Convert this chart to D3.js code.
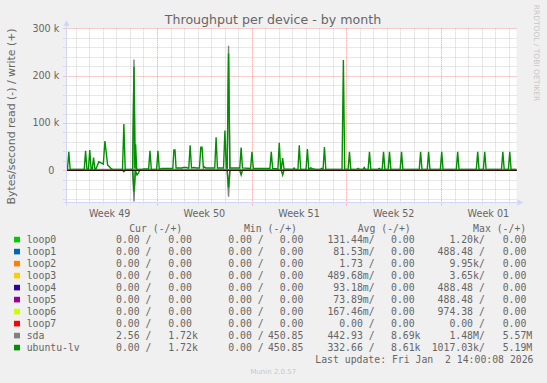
<!DOCTYPE html>
<html>
<head>
<meta charset="utf-8">
<script src="https://cdn.jsdelivr.net/npm/d3@7"></script>
<style>
  body { margin: 0; background: #f0f0f0; }
  text { fill: #666; font-family: "DejaVu Sans", sans-serif; }
  .mono { font-family: "DejaVu Sans Mono", monospace; font-size: 9.8px; white-space: pre; }
</style>
</head>
<body>
<div id="chart"></div>
<script>
var width = 547, height = 383;
var dayMs = 864e5;
var t0 = Date.UTC(2025, 11, 1);          // Mon 1 Dec 2025, day offsets below count from here
var viewDays = [0.309, 33.58];

var devices = ["loop0", "loop1", "loop2", "loop3", "loop4", "loop5", "loop6", "loop7", "sda", "ubuntu-lv"];
var colors = ["#00CC00", "#0066B3", "#FF8000", "#FFCC00", "#330099", "#990099", "#CCFF00", "#FF0000", "#808080", "#008F00"];

// [day, kB/s] points; a 3-entry point is a one-sample spike: [day, peak, level around it]
var lvWrite = [
  [0.31, 2], [0.48, 39, 2], [1.72, 41, 2], [2.03, 43, 2], [2.31, 27, 2],
  [2.48, 2], [2.70, 18], [2.90, 15], [3.03, 13], [3.15, 62], [3.35, 11], [3.47, 8], [3.59, 4], [3.70, 2],
  [4.55, 98, 2],
  [5.20, 2], [5.30, 219], [5.36, 4], [5.42, 55], [5.50, 2],
  [5.95, 2], [6.0, 3], [6.33, 3], [6.48, 41, 2], [7.07, 41, 2],
  [7.35, 4], [8.09, 4], [8.17, 4], [8.25, 43], [8.33, 43], [8.41, 5],
  [8.85, 5], [8.95, 6], [9.18, 6], [9.25, 5], [9.45, 53, 5], [9.72, 6], [9.92, 5],
  [10.14, 5], [10.24, 49], [10.33, 49], [10.43, 5], [10.50, 7], [10.6, 5],
  [11.37, 70, 5], [12.02, 84, 5], [12.29, 247, 5], [13.22, 48, 5],
  [14.02, 39, 4], [15.45, 39, 4], [16.04, 58, 3], [16.29, 26, 3],
  [17.13, 5, 2], [17.52, 53, 2], [18.12, 45, 2], [18.37, 5], [18.5, 3], [18.61, 3], [18.7, 2],
  [19.18, 4, 2], [19.38, 49, 2], [20.78, 233, 2], [21.23, 39, 2], [21.87, 4, 2], [22.32, 6, 2],
  [22.71, 39, 2], [23.43, 4, 2], [23.75, 39, 2], [24.19, 39, 2], [25.08, 39, 2], [26.49, 39, 2],
  [27.08, 39, 2], [28.05, 39, 2], [29.23, 39, 2], [30.71, 39, 2], [31.23, 39, 2], [32.57, 39, 2],
  [33.08, 39, 2], [33.58, 2]
];
var lvRead = [
  [0.31, 0], [4.55, 3, 0], [5.30, 45, 0], [5.40, 0], [5.52, 10], [5.62, 6], [5.72, 0],
  [12.29, 36, 0], [13.22, 10, 0], [16.29, 10, 0], [33.58, 0]
];
var sdaWrite = [[0.31, 2], [5.30, 234, 2], [12.29, 263, 2], [33.58, 2]];
var sdaRead = [[0.31, 0], [5.30, 66, 0], [12.29, 56, 0], [33.58, 0]];
var loopFlat = [[0.31, 0], [33.58, 0]];

var yTicks = [0, 100000, 200000, 300000];
var yTickLabels = ["0", "100 k", "200 k", "300 k"];

var curR = ["0.00", "0.00", "0.00", "0.00", "0.00", "0.00", "0.00", "0.00", "2.56", "0.00"];
var curW = ["0.00", "0.00", "0.00", "0.00", "0.00", "0.00", "0.00", "0.00", "1.72k", "1.72k"];
var minR = ["0.00", "0.00", "0.00", "0.00", "0.00", "0.00", "0.00", "0.00", "0.00", "0.00"];
var minW = ["0.00", "0.00", "0.00", "0.00", "0.00", "0.00", "0.00", "0.00", "450.85", "450.85"];
var avgR = ["131.44m", "81.53m", "1.73", "489.68m", "93.18m", "73.89m", "167.46m", "0.00", "442.93", "332.66"];
var avgW = ["0.00", "0.00", "0.00", "0.00", "0.00", "0.00", "0.00", "0.00", "8.69k", "8.61k"];
var maxR = ["1.20k", "488.48", "9.95k", "3.65k", "488.48", "488.48", "974.38", "0.00", "1.48M", "1017.03k"];
var maxW = ["0.00", "0.00", "0.00", "0.00", "0.00", "0.00", "0.00", "0.00", "5.57M", "5.19M"];

var plotLeft = 66.5, plotRight = 516.5, plotTop = 28.3, plotBottom = 202.5;

var svg = d3.select("#chart").append("svg")
    .attr("width", width)
    .attr("height", height);

svg.append("rect").attr("width", width).attr("height", height).attr("fill", "#f0f0f0");

var toDate = function(d) { return new Date(t0 + d * dayMs); };

var x = d3.scaleUtc()
    .domain(viewDays.map(toDate))
    .range([plotLeft, plotRight]);

var y = d3.scaleLinear()
    .domain([-68000, 300000])
    .range([plotBottom, plotTop]);

// canvas
svg.append("rect")
    .attr("x", plotLeft).attr("y", plotTop)
    .attr("width", plotRight - plotLeft).attr("height", plotBottom - plotTop)
    .attr("fill", "#fff");

var px = function(v) { return Math.round(v) + 0.5; };
var minorCol = "rgba(150,150,150,0.45)", majorCol = "rgba(240,90,90,0.6)";

// grid
var days = d3.utcDay.range(x.domain()[0], x.domain()[1]);
var grid = svg.append("g");
days.forEach(function(d) {
    var major = d.getUTCDay() === 1;
    grid.append("line")
        .attr("x1", px(x(d))).attr("x2", px(x(d)))
        .attr("y1", plotTop).attr("y2", plotBottom + (major ? 3.5 : 2))
        .attr("stroke", major ? majorCol : minorCol)
        .attr("stroke-dasharray", "1,1");
});
d3.range(-60000, 300001, 20000).forEach(function(v) {
    var major = v % 100000 === 0;
    grid.append("line")
        .attr("x1", plotLeft - 3).attr("x2", plotRight)
        .attr("y1", px(y(v))).attr("y2", px(y(v)))
        .attr("stroke", major ? majorCol : minorCol)
        .attr("stroke-dasharray", "1,1");
});

// series
var expand = function(pts) {
    var out = [];
    pts.forEach(function(p) {
        if (p.length === 3) out.push([p[0] - 0.1, p[2]], [p[0], p[1]], [p[0] + 0.1, p[2]]);
        else out.push(p);
    });
    return out;
};

var line = function(sign) {
    return d3.line()
        .x(function(p) { return x(toDate(p[0])); })
        .y(function(p) { return y(sign * p[1] * 1000); });
};

svg.append("clipPath").attr("id", "clip").append("rect")
    .attr("x", plotLeft).attr("y", plotTop - 1).attr("width", plotRight - plotLeft).attr("height", plotBottom - plotTop + 1);

var plot = svg.append("g").attr("clip-path", "url(#clip)");
devices.forEach(function(name, i) {
    var w = loopFlat, r = loopFlat;
    if (name === "sda") { w = sdaWrite; r = sdaRead; }
    if (name === "ubuntu-lv") { w = lvWrite; r = lvRead; }
    plot.append("path").attr("d", line(-1)(expand(r)))
        .attr("fill", "none").attr("stroke", colors[i]).attr("stroke-width", 1.4);
    plot.append("path").attr("d", line(1)(expand(w)))
        .attr("fill", "none").attr("stroke", colors[i]).attr("stroke-width", 1.4);
});

// zero line, with the red major grid dots showing over it
svg.append("line")
    .attr("x1", plotLeft).attr("x2", plotRight)
    .attr("y1", px(y(0))).attr("y2", px(y(0)))
    .attr("stroke", "#000");
svg.append("line")
    .attr("x1", plotLeft).attr("x2", plotRight)
    .attr("y1", px(y(0))).attr("y2", px(y(0)))
    .attr("stroke", "rgba(200,40,40,0.5)")
    .attr("stroke-dasharray", "1,1");

// axes
var axisColor = "#CFD6F8";
svg.append("line").attr("x1", plotLeft).attr("x2", plotLeft).attr("y1", plotBottom + 3).attr("y2", 24)
    .attr("stroke", axisColor);
svg.append("path").attr("d", "M" + plotLeft + ",20 L" + (plotLeft - 3) + ",26 L" + (plotLeft + 3) + ",26 Z")
    .attr("fill", axisColor);
svg.append("line").attr("x1", plotLeft - 3).attr("x2", plotRight + 2).attr("y1", plotBottom).attr("y2", plotBottom)
    .attr("stroke", axisColor);
svg.append("path").attr("d", "M" + (plotRight + 7) + "," + plotBottom + " L" + (plotRight + 1) + "," + (plotBottom - 3) + " L" + (plotRight + 1) + "," + (plotBottom + 3) + " Z")
    .attr("fill", axisColor);

// y tick labels
svg.append("g").selectAll("text")
    .data(yTicks)
    .enter().append("text")
    .attr("x", function(d) { return d === 0 ? 54.3 : 59.3; })
    .attr("y", function(d) { return y(d); })
    .attr("dy", "0.36em")
    .attr("text-anchor", "end")
    .style("font-size", "9.6px")
    .text(function(d, i) { return yTickLabels[i]; });

// week labels, centred on the week
var weekFmt = d3.utcFormat("Week %V");
svg.append("g").selectAll("text")
    .data(d3.utcMonday.range(d3.utcMonday.offset(x.domain()[0], -1), x.domain()[1]))
    .enter().append("text")
    .attr("x", function(d) { return x(new Date(+d + 3.5 * dayMs)); })
    .attr("y", 216.5)
    .attr("text-anchor", "middle")
    .style("font-size", "9.6px")
    .text(weekFmt);

// title and axis label
svg.append("text")
    .attr("x", 273).attr("y", 23.5)
    .attr("text-anchor", "middle")
    .style("font-size", "12.6px")
    .text("Throughput per device - by month");

svg.append("text")
    .attr("transform", "translate(14.5,116.5) rotate(-90)")
    .attr("text-anchor", "middle")
    .style("font-size", "10.9px")
    .text("Bytes/second read (-) / write (+)");

svg.append("text")
    .attr("transform", "translate(533.5,53) rotate(90)")
    .attr("text-anchor", "middle")
    .style("font-size", "7.5px")
    .style("fill", "#c8c8c8")
    .text("RRDTOOL / TOBI OETIKER");

// legend
var headers = ["Cur (-/+)", "Min (-/+)", "Avg (-/+)", "Max (-/+)"];
var headerX = [129.2, 243.9, 357.7, 473.1];
var readEnd = [139.6, 251.9, 362.8, 473];
var writeEnd = [191.9, 303.3, 414.6, 526.3];
var cols = [[curR, curW], [minR, minW], [avgR, avgW], [maxR, maxW]];

var legend = svg.append("g");
headers.forEach(function(h, c) {
    legend.append("text").attr("class", "mono")
        .attr("x", headerX[c]).attr("y", 231.5).text(h);
});

var split = function(s) {
    var m = s.match(/^([\d.]+)(\D?)$/);
    return [m[1], m[2] || " "];
};

devices.forEach(function(name, i) {
    var yy = 243 + i * 12;
    legend.append("rect")
        .attr("x", 14).attr("y", yy - 6.2).attr("width", 6).attr("height", 5.6)
        .attr("fill", colors[i]);
    legend.append("text").attr("class", "mono").attr("x", 26.7).attr("y", yy).text(name);
    cols.forEach(function(col, c) {
        var r = split(col[0][i]), w = split(col[1][i]);
        legend.append("text").attr("class", "mono").attr("x", readEnd[c]).attr("y", yy)
            .attr("text-anchor", "end").text(r[0]);
        legend.append("text").attr("class", "mono").attr("x", readEnd[c]).attr("y", yy)
            .text(r[1] + "/");
        legend.append("text").attr("class", "mono").attr("x", writeEnd[c]).attr("y", yy)
            .attr("text-anchor", "end").text(w[0]);
        if (w[1] !== " ")
            legend.append("text").attr("class", "mono").attr("x", writeEnd[c]).attr("y", yy).text(w[1]);
    });
});

legend.append("text").attr("class", "mono")
    .attr("x", 533.5).attr("y", 363.3)
    .attr("text-anchor", "end")
    .text("Last update: Fri Jan  2 14:00:08 2026");

svg.append("text")
    .attr("x", 273.3).attr("y", 374)
    .attr("text-anchor", "middle")
    .style("font-size", "7px")
    .style("fill", "#c8c8c8")
    .text("Munin 2.0.57");
</script>
</body>
</html>
